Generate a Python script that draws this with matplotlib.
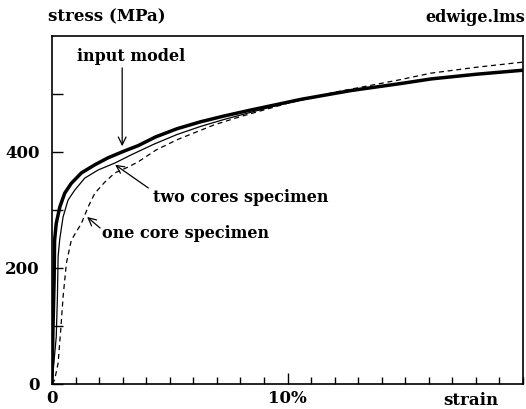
import numpy as np
import matplotlib
matplotlib.use("Agg")
import matplotlib.pyplot as plt

# strain in %, stress in MPa
modelStrain = [0, 0.04, 0.09, 0.11, 0.18, 0.33, 0.54, 0.82, 1.25, 1.82, 2.38, 3.09, 3.66, 4.4,
               5.3, 6.3, 7.3, 8.4, 9.1, 10.6, 12.7, 14.8, 16.1, 18.0, 20.0]
modelStress = [0, 93, 179, 248, 277, 305, 329, 346, 364, 378, 390, 402, 411, 426,
               440, 452, 462, 472, 478, 491, 506, 518, 526, 534, 541]

twoStrain = [0, 0.04, 0.18, 0.23, 0.26, 0.33, 0.47, 0.68, 0.96, 1.39, 1.96, 2.67, 3.36, 4.3,
             5.3, 6.3, 7.3, 8.4, 10.0, 12.0, 14.0, 16.0, 18.0, 20.0]
twoStress = [0, 19, 81, 150, 220, 250, 288, 317, 334, 355, 369, 381, 395, 413,
             430, 444, 456, 468, 485, 501, 514, 525, 534, 541]

oneStrain = [0, 0.11, 0.26, 0.37, 0.47, 0.61, 0.82, 1.25, 1.53, 1.82, 2.24, 2.67, 3.23, 3.66,
             4.4, 5.3, 6.9, 8.0, 10.0, 12.0, 14.7, 16.1, 18.0, 20.0]
oneStress = [0, 7, 36, 93, 150, 208, 248, 277, 305, 329, 348, 364, 374, 383,
             403, 421, 447, 461, 484, 503, 524, 536, 546, 555]

font = {"family": "DejaVu Serif", "weight": "bold"}

fig = plt.figure(figsize=(5.26, 4.09), dpi=100)
ax = fig.add_axes([52/526, 25/409, 471/526, 348/409])

ax.plot(modelStrain, modelStress, color="black", lw=2.5, solid_joinstyle="round")
ax.plot(twoStrain, twoStress, color="black", lw=0.9)
ax.plot(oneStrain, oneStress, color="black", lw=0.9, ls=(0, (4, 3)))

ax.set_xlim(0, 20)
ax.set_ylim(0, 600)

ax.set_xticks([0, 10])
ax.set_xticklabels(["0", "10%"], fontdict=font, fontsize=12)
ax.set_xticks(np.arange(0, 21, 1), minor=True)
ax.set_yticks([0, 200, 400])
ax.set_yticklabels(["0", "200", "400"], fontdict=font, fontsize=12)
ax.set_yticks([100, 300, 500], minor=True)
ax.tick_params(axis="x", which="major", direction="in", length=8, width=1, pad=4)
ax.tick_params(axis="x", which="minor", direction="in", length=5, width=1)
ax.tick_params(axis="y", which="both", direction="in", length=8, width=1, pad=9)
for s in ax.spines.values():
    s.set_linewidth(1.2)

ax.annotate("strain", xy=(17.8, 0), xycoords=("data", "axes fraction"),
            xytext=(0, -6), textcoords="offset points", ha="center", va="top",
            fontsize=12, **font)

arrow = dict(arrowstyle="->", lw=0.9, color="black", shrinkA=0, shrinkB=0,
             mutation_scale=14)
ax.annotate("", xy=(2.98, 410), xytext=(2.98, 545), arrowprops=arrow)
ax.text(3.36, 564, "input model", ha="center", va="center", fontsize=11.5, **font)

ax.annotate("", xy=(2.68, 378), xytext=(4.09, 338), arrowprops=arrow)
ax.text(4.3, 322, "two cores specimen", ha="left", va="center", fontsize=11.5, **font)

ax.annotate("", xy=(1.49, 288), xytext=(2.04, 269), arrowprops=arrow)
ax.text(2.13, 260, "one core specimen", ha="left", va="center", fontsize=11.5, **font)

fig.text(48/526, 1 - 17/409, "stress (MPa)", ha="left", va="center", fontsize=12, **font)
fig.text(525/526, 1 - 17/409, "edwige.lms", ha="right", va="center", fontsize=11.5, **font)

fig.savefig("out.png", dpi=100)
